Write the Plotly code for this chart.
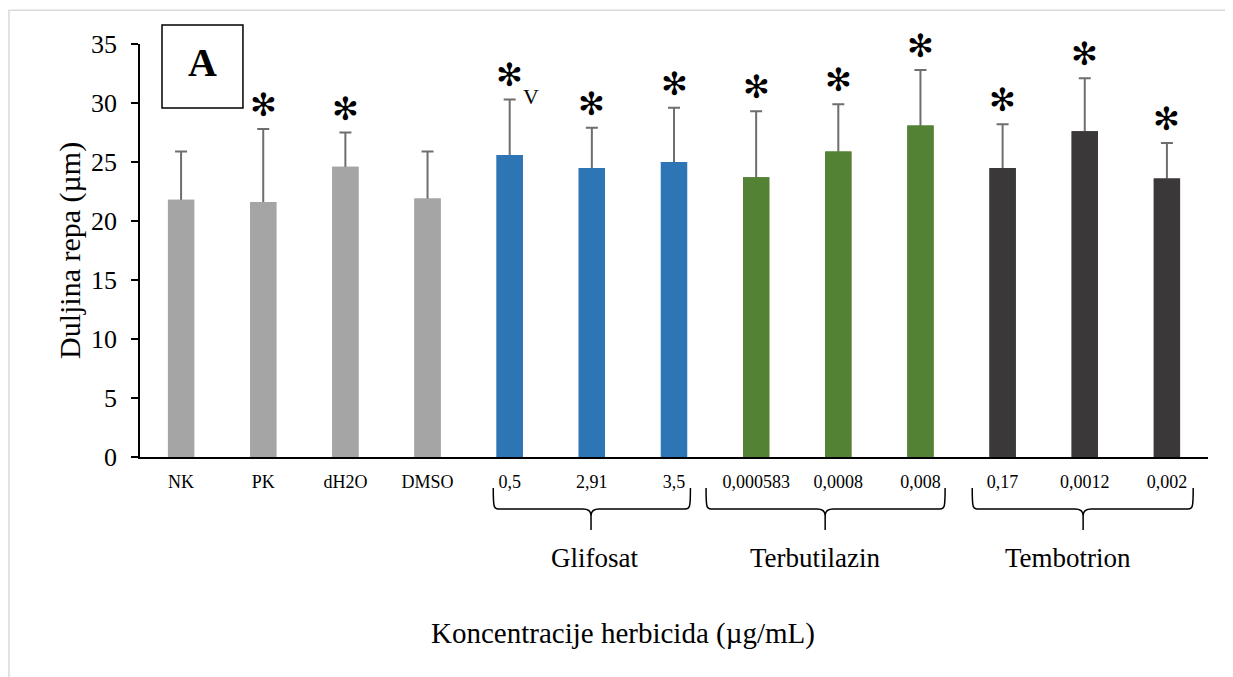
import plotly.graph_objects as go

categories = ["NK", "PK", "dH2O", "DMSO", "0,5", "2,91", "3,5",
              "0,000583", "0,0008", "0,008", "0,17", "0,0012", "0,002"]
groups = ["ctrl", "ctrl", "ctrl", "ctrl", "gli", "gli", "gli",
          "ter", "ter", "ter", "tem", "tem", "tem"]
means = [21.8, 21.6, 24.6, 21.9, 25.6, 24.5, 25.0, 23.7, 25.9, 28.1, 24.5, 27.6, 23.6]
errors = [4.1, 6.2, 2.9, 4.0, 4.7, 3.4, 4.6, 5.6, 4.0, 4.7, 3.7, 4.5, 3.0]
significant = [False, True, True, False, True, True, True, True, True, True, True, True, True]
group_names = ["Glifosat", "Terbutilazin", "Tembotrion"]
y_ticks = [0, 5, 10, 15, 20, 25, 30, 35]

colors = {"ctrl": "#A5A5A5", "gli": "#2E75B6", "ter": "#548235", "tem": "#3A3838"}
serif = "Liberation Serif, Times New Roman, serif"

xpos = list(range(len(categories)))
bar_colors = [colors[g] for g in groups]

fig = go.Figure()
# bars carrying the (symmetric) error bars; lower half is hidden by the bars drawn on top
fig.add_trace(go.Bar(
    x=xpos, y=means,
    marker=dict(color=bar_colors, line=dict(width=0)),
    width=0.32,
    error_y=dict(type="data", symmetric=True, array=errors,
                 color="#6E6E6E", thickness=2, width=6),
    showlegend=False, hoverinfo="skip",
))
# bars on top
fig.add_trace(go.Bar(
    x=xpos, y=means,
    marker=dict(color=bar_colors, line=dict(width=0)),
    width=0.32,
    showlegend=False,
))

annotations = []
for i, (m, e, s) in enumerate(zip(means, errors, significant)):
    if s:
        annotations.append(dict(
            x=i, y=m + e, xref="x", yref="y", text="✻", showarrow=False,
            xanchor="center", yanchor="bottom", yshift=3,
            font=dict(family="DejaVu Sans", size=32, color="black")))

# "V" mark next to first Glifosat asterisk
annotations.append(dict(x=4, y=means[4] + errors[4], xref="x", yref="y", text="V",
                        showarrow=False, xshift=21, yshift=3,
                        xanchor="center", yanchor="middle",
                        font=dict(family=serif, size=22, color="black")))

# Panel label "A"
annotations.append(dict(x=0.0585, y=0.955, xref="paper", yref="paper", text="<b>A</b>",
                        showarrow=False, xanchor="center", yanchor="middle",
                        font=dict(family=serif, size=40, color="black")))

# Brace specs: left, tip, right (in x data units)
braces = [(3.8, 4.99, 6.2), (6.39, 7.84, 9.30), (9.63, 10.98, 12.32)]
label_x = [5.03, 7.72, 10.8]
ytop, yh, ytip = -0.0751, -0.1259, -0.1768
yh2 = -0.142
shapes = []
for (xl, xc, xr), name, lx in zip(braces, group_names, label_x):
    d = 0.1
    path = (f"M {xl},{ytop} C {xl},{yh} {xl},{yh} {xl+d},{yh} "
            f"L {xc-d},{yh} Q {xc},{yh} {xc},{yh2} L {xc},{ytip} "
            f"M {xc},{yh2} Q {xc},{yh} {xc+d},{yh} "
            f"L {xr-d},{yh} C {xr},{yh} {xr},{yh} {xr},{ytop}")
    shapes.append(dict(type="path", xref="x", yref="paper", path=path,
                       line=dict(color="black", width=1.5)))
    annotations.append(dict(x=lx, y=-0.245, xref="x", yref="paper", text=name,
                            showarrow=False, xanchor="center", yanchor="middle",
                            font=dict(family=serif, size=27, color="black")))

# Box around "A"
shapes.append(dict(type="rect", xref="paper", yref="paper",
                   x0=0.0206, x1=0.0964, y0=0.845, y1=1.046,
                   line=dict(color="black", width=1.5)))
# Outer chart border
shapes.append(dict(type="rect", xref="paper", yref="paper",
                   x0=-0.1227, x1=1.0225, y0=-0.6, y1=1.082,
                   line=dict(color="#D9D9D9", width=1.5)))

# Axis titles as annotations
annotations.append(dict(x=0.452, y=-0.427, xref="paper", yref="paper",
                        text="Koncentracije herbicida (µg/mL)", showarrow=False,
                        xanchor="center", yanchor="middle",
                        font=dict(family=serif, size=29, color="black")))
annotations.append(dict(x=-0.066, y=0.5, xref="paper", yref="paper",
                        text="Duljina repa (µm)", showarrow=False, textangle=-90,
                        xanchor="center", yanchor="middle",
                        font=dict(family=serif, size=30, color="black")))

fig.update_layout(
    width=1233, height=677,
    margin=dict(l=132, r=33, t=36, b=228),
    paper_bgcolor="white", plot_bgcolor="white",
    barmode="overlay",
    xaxis=dict(range=[-0.5, 12.5], tickmode="array", tickvals=xpos, ticktext=categories,
               showline=True, linecolor="black", linewidth=2, ticks="",
               showgrid=False, zeroline=False, ticklabelstandoff=7,
               tickfont=dict(family=serif, size=18, color="black")),
    yaxis=dict(range=[0, 35], tickmode="array", tickvals=y_ticks,
               showline=True, linecolor="black", linewidth=1.5,
               ticks="outside", ticklen=7, tickcolor="black", tickwidth=1.5,
               showgrid=False, zeroline=False, ticklabelstandoff=9,
               tickfont=dict(family=serif, size=26, color="black")),
    annotations=annotations,
    shapes=shapes,
)

fig.write_html("out.html")
